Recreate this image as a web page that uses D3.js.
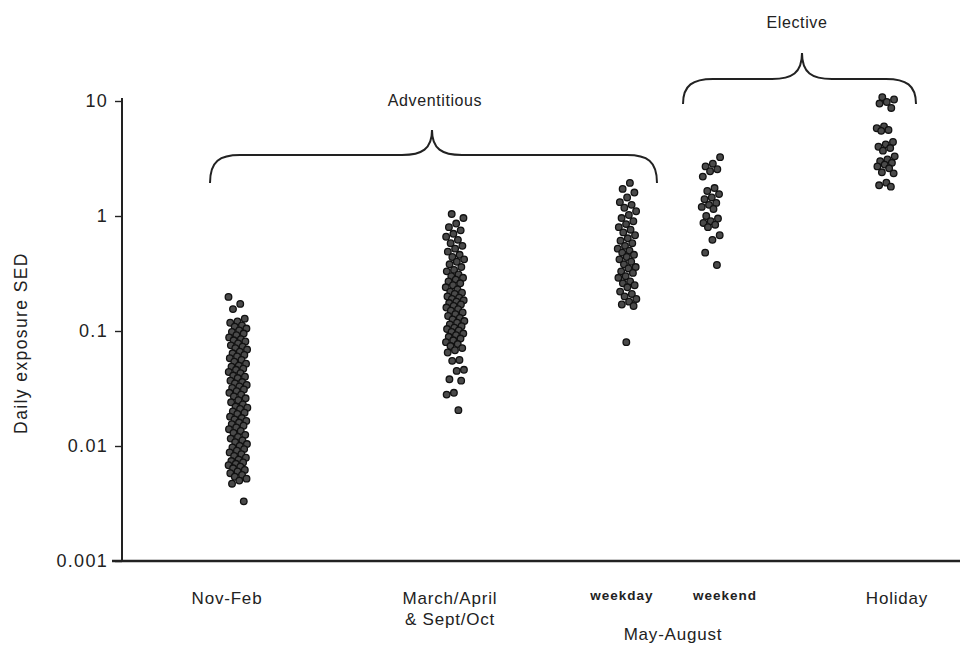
<!DOCTYPE html>
<html>
<head>
<meta charset="utf-8">
<script src="https://cdn.jsdelivr.net/npm/d3@7"></script>
<style>
  html, body { margin: 0; padding: 0; background: #fff; }
  svg { display: block; font-family: "Liberation Sans", Arial, sans-serif; }
</style>
</head>
<body>
<svg id="chart" width="973" height="648"></svg>
<script>
// Daily solar UV exposure (SED) by season / activity group
const categories = ["Nov-Feb", "March/April", "weekday", "weekend", "Holiday"];

const novFeb = [0.198, 0.172, 0.155, 0.128, 0.121, 0.118, 0.112, 0.109, 0.105, 0.101,
  0.098, 0.095, 0.092, 0.088, 0.085, 0.083, 0.081, 0.078, 0.075, 0.073, 0.071, 0.069,
  0.066, 0.064, 0.062, 0.06, 0.058, 0.056, 0.054, 0.052, 0.05, 0.049, 0.047, 0.046,
  0.044, 0.043, 0.041, 0.04, 0.039, 0.037, 0.036, 0.035, 0.034, 0.033, 0.032, 0.031,
  0.03, 0.029, 0.028, 0.027, 0.026, 0.025, 0.024, 0.023, 0.022, 0.0215, 0.021, 0.02,
  0.0195, 0.019, 0.018, 0.0175, 0.017, 0.0165, 0.016, 0.0155, 0.015, 0.0145, 0.014,
  0.0135, 0.013, 0.0125, 0.012, 0.0116, 0.0112, 0.0108, 0.0104, 0.01, 0.0097, 0.0094,
  0.0091, 0.0088, 0.0085, 0.0082, 0.0079, 0.0076, 0.0074, 0.0072, 0.007, 0.0068,
  0.0066, 0.0064, 0.0062, 0.006, 0.0058, 0.0056, 0.0054, 0.0052, 0.005, 0.0047, 0.0033];

const marchApril = [1.04, 0.96, 0.86, 0.8, 0.75, 0.7, 0.66, 0.62, 0.58, 0.55, 0.52, 0.49,
  0.46, 0.44, 0.42, 0.4, 0.38, 0.36, 0.34, 0.33, 0.31, 0.3, 0.29, 0.28, 0.27, 0.26, 0.25,
  0.24, 0.23, 0.22, 0.215, 0.21, 0.2, 0.195, 0.19, 0.185, 0.18, 0.175, 0.17, 0.165, 0.16,
  0.155, 0.15, 0.145, 0.14, 0.135, 0.13, 0.126, 0.122, 0.118, 0.114, 0.11, 0.107, 0.104,
  0.101, 0.098, 0.095, 0.092, 0.089, 0.086, 0.083, 0.08, 0.077, 0.074, 0.071, 0.068,
  0.065, 0.056, 0.055, 0.046, 0.045, 0.038, 0.037, 0.029, 0.028, 0.0205];

const weekday = [1.94, 1.72, 1.6, 1.45, 1.32, 1.25, 1.18, 1.1, 1.02, 0.96, 0.9, 0.85, 0.8,
  0.76, 0.72, 0.68, 0.64, 0.61, 0.58, 0.55, 0.52, 0.5, 0.48, 0.46, 0.44, 0.42, 0.4, 0.38,
  0.36, 0.35, 0.33, 0.32, 0.3, 0.29, 0.27, 0.26, 0.25, 0.24, 0.22, 0.21, 0.2, 0.19, 0.18,
  0.17, 0.165, 0.08];

const weekend = [3.25, 2.85, 2.7, 2.55, 2.45, 2.2, 1.75, 1.65, 1.55, 1.45, 1.4, 1.3, 1.25,
  1.2, 1.15, 1.0, 0.95, 0.9, 0.87, 0.84, 0.8, 0.68, 0.62, 0.48, 0.375];

const holiday = [10.8, 10.3, 9.8, 9.5, 8.7, 6.0, 5.8, 5.6, 5.5, 4.4, 4.2, 4.0, 3.9, 3.7,
  3.3, 3.1, 3.0, 2.9, 2.8, 2.7, 2.6, 2.4, 2.35, 1.95, 1.85, 1.8];

const seriesValues = [novFeb, marchApril, weekday, weekend, holiday];

const majorTicks = [0.001, 0.01, 0.1, 1, 10];
const tickLabels = ["0.001", "0.01", "0.1", "1", "10"];

// ---- layout ----
const svg = d3.select("#chart");
const axisX = 122, baseY = 561, topY = 101, rightX = 960;

const y = d3.scaleLog().domain([0.001, 10]).range([baseY, topY]);
const x = d3.scaleOrdinal().domain(categories).range([238, 455, 627, 711, 886]);
const ink = "#222";

// minor log ticks
const minorTicks = [];
for (let e = -3; e < 1; e++) for (let m = 2; m <= 9; m++) minorTicks.push(m * Math.pow(10, e));

const gy = svg.append("g").attr("transform", `translate(${axisX},0)`);
gy.call(d3.axisLeft(y).tickValues(minorTicks).tickSize(5).tickFormat(""))
  .call(g => g.select(".domain").remove());
gy.call(d3.axisLeft(y).tickValues(majorTicks).tickSize(7).tickPadding(7)
    .tickFormat((d, i) => tickLabels[i]))
  .call(g => g.select(".domain").remove());
gy.selectAll("line").attr("stroke", ink).attr("stroke-width", 1.4);
gy.selectAll("text").attr("fill", ink).attr("font-size", 18).attr("letter-spacing", 1.3)
  .attr("font-family", "Liberation Sans, Arial, sans-serif");

// axis lines
svg.append("line").attr("x1", axisX).attr("x2", axisX).attr("y1", topY - 3).attr("y2", baseY)
  .attr("stroke", ink).attr("stroke-width", 2);
svg.append("line").attr("x1", axisX - 10).attr("x2", rightX).attr("y1", baseY).attr("y2", baseY)
  .attr("stroke", ink).attr("stroke-width", 2.4);

// y axis title
svg.append("text")
  .attr("transform", `translate(27,${(topY + baseY) / 2 + 12}) rotate(-90)`)
  .attr("text-anchor", "middle").attr("fill", ink)
  .attr("font-size", 17.5).attr("letter-spacing", 1.4)
  .text("Daily exposure SED");

// points, spread sideways within each column
const jitter = i => ((i * 0.6180339887) % 1 - 0.5) * 19;
seriesValues.forEach((vals, k) => {
  svg.append("g").selectAll("circle").data(vals).join("circle")
    .attr("cx", (d, i) => x(categories[k]) + jitter(i + k * 7))
    .attr("cy", d => y(d))
    .attr("r", 3.3)
    .attr("fill", "#4a4a4a")
    .attr("stroke", "#111")
    .attr("stroke-width", 1.3);
});

// category labels
const labelOffset = [-11, -5, -5, 14, 11];
const labels = svg.append("g").attr("fill", ink).attr("text-anchor", "middle");
labels.append("text").attr("x", x("Nov-Feb") + labelOffset[0]).attr("y", 604)
  .attr("font-size", 17).attr("letter-spacing", 0.8).text("Nov-Feb");
const ma = labels.append("text").attr("x", x("March/April") + labelOffset[1]).attr("y", 604)
  .attr("font-size", 17).attr("letter-spacing", 0.8);
ma.append("tspan").attr("x", x("March/April") + labelOffset[1]).text("March/April");
ma.append("tspan").attr("x", x("March/April") + labelOffset[1]).attr("dy", 21).text("& Sept/Oct");
labels.append("text").attr("x", x("weekday") + labelOffset[2]).attr("y", 600)
  .attr("font-size", 13.5).attr("font-weight", 600).attr("letter-spacing", 1).text("weekday");
labels.append("text").attr("x", x("weekend") + labelOffset[3]).attr("y", 600)
  .attr("font-size", 13.5).attr("font-weight", 600).attr("letter-spacing", 1).text("weekend");
labels.append("text").attr("x", (x("weekday") + x("weekend")) / 2 + 4).attr("y", 640)
  .attr("font-size", 17).attr("letter-spacing", 0.8).text("May-August");
labels.append("text").attr("x", x("Holiday") + labelOffset[4]).attr("y", 604)
  .attr("font-size", 17).attr("letter-spacing", 0.8).text("Holiday");

// group braces
function brace(x0, x1, xm, yEnd, yH, yTip) {
  const r = 30;
  return `M${x0},${yEnd} C${x0},${yH + 6} ${x0 + 10},${yH} ${x0 + r},${yH}` +
    ` L${xm - r},${yH} C${xm - 10},${yH} ${xm},${yH - 6} ${xm},${yTip}` +
    ` C${xm},${yH - 6} ${xm + 10},${yH} ${xm + r},${yH}` +
    ` L${x1 - r},${yH} C${x1 - 10},${yH} ${x1},${yH + 6} ${x1},${yEnd}`;
}
const groups = [
  { name: "Adventitious", from: "Nov-Feb", to: "weekday", yEnd: 183, yH: 155, yTip: 130, ty: 106, xm: 432, tx: 435 },
  { name: "Elective", from: "weekend", to: "Holiday", yEnd: 104, yH: 79, yTip: 53, ty: 28, xm: 802, tx: 797 }
];
groups.forEach(g => {
  const x0 = x(g.from) - 28, x1 = x(g.to) + 30;
  svg.append("path").attr("d", brace(x0, x1, g.xm, g.yEnd, g.yH, g.yTip))
    .attr("fill", "none").attr("stroke", ink).attr("stroke-width", 2);
  svg.append("text").attr("x", g.tx).attr("y", g.ty).attr("text-anchor", "middle")
    .attr("fill", ink).attr("font-size", 16).attr("letter-spacing", 0.6).text(g.name);
});
</script>
</body>
</html>
